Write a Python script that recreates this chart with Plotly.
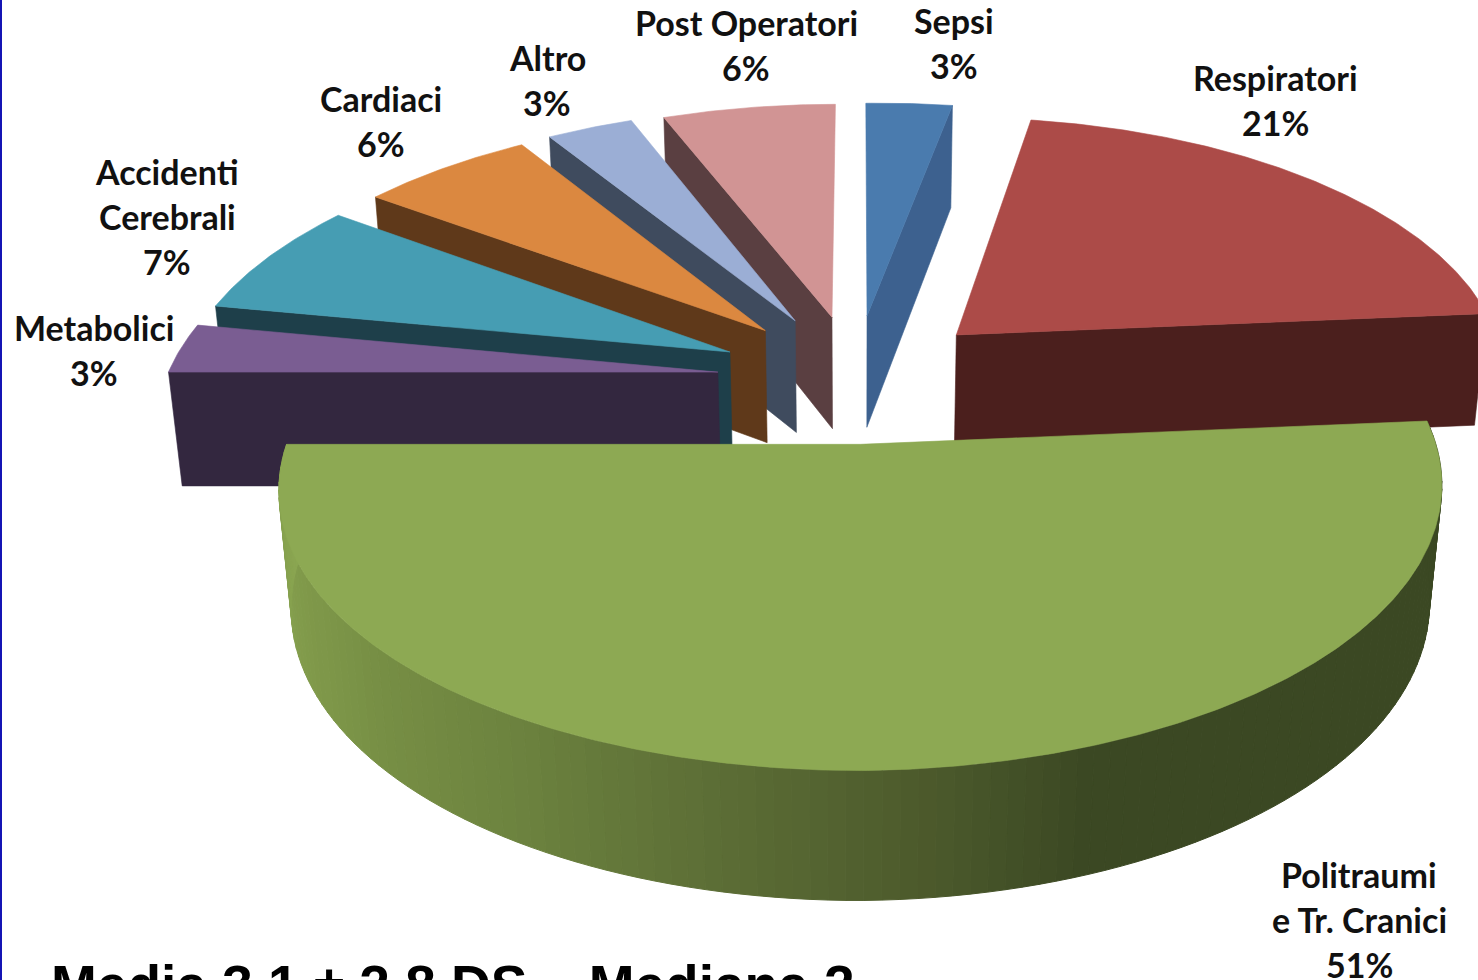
import numpy as np
import plotly.graph_objects as go

# ---- data (clockwise from 12 o'clock) ----
categories = ["Sepsi", "Respiratori", "Politraumi<br>e Tr. Cranici", "Metabolici",
              "Accidenti<br>Cerebrali", "Cardiaci", "Altro", "Post Operatori"]
values = [3, 21, 51, 3, 7, 6, 3, 6]

# ---- styles ----
top_colors = ["#4A7BAE", "#AC4B48", "#8DA953", "#7A5D92", "#469DB3", "#DB8840", "#9BAED5", "#D19494"]
wall_colors = ["#3D618F", "#4B1F1D", "#3B4823", "#33273F", "#1E3F4A", "#5F391A", "#3F4B5E", "#5A3F41"]
explode_x = [.017, .183, .004, -.255, -.236, -.173, -.118, -.049]
explode_y = [.15, .068, -.345, -.075, .004, .09, .13, .145]
draw_order = [7, 0, 6, 1, 5, 4, 3, 2]
CX, CY, A, B, KX, KY, M, H, R = 858, 353, 543, 252, .155, .14, .02, 113, 6
wall_stops = [(86, "#3B4823"), (160, "#3B4823"), (176, "#4E5C2D"), (194, "#5E7037"),
              (213, "#6E8540"), (240, "#7E9749"), (270, "#8BA752")]
label_pos = {"Sepsi": (954, 20), "Respiratori": (1275, 77), "Politraumi<br>e Tr. Cranici": (1359, 874),
             "Metabolici": (94, 327), "Accidenti<br>Cerebrali": (167, 171), "Cardiaci": (381, 98),
             "Altro": (547, 57), "Post Operatori": (746, 22)}
LINE_GAP = 45
LABEL_FONT = dict(family="Lato", size=34, color="#111111")


def project(x, y, z):
    wx = 1 + KX * y - M * z
    wy = 1 + KY * y
    return CX + A * x / wx, CY - B * y / wy - H * z / wy ** .67 - R * max(x, 0)


def hex2rgb(c):
    return np.array([int(c[i:i + 2], 16) for i in (1, 3, 5)], float)


def wall_color(b):
    bs = [s[0] for s in wall_stops]
    rgb = [np.interp(b, bs, [hex2rgb(s[1])[i] for s in wall_stops]) for i in range(3)]
    return "rgb(%d,%d,%d)" % tuple(rgb)


fig = go.Figure()


def poly(xs, ys, color, lw=0.6):
    fig.add_trace(go.Scatter(x=list(xs) + [xs[0]], y=list(ys) + [ys[0]], mode="lines", fill="toself",
                             fillcolor=color, line=dict(color=color, width=lw),
                             hoverinfo="skip", showlegend=False))


edges = np.concatenate([[0], np.cumsum(values)]) * 3.6
for i in draw_order:
    a0, a1 = edges[i], edges[i + 1]
    ox, oy = explode_x[i], explode_y[i]

    def pt(r, b, z):
        t = np.radians(b)
        return project(ox + r * np.sin(t), oy + r * np.cos(t), z)

    # radial wall that faces the viewer
    for b, on in ((a0, np.sin(np.radians(a0)) < 0), (a1, np.sin(np.radians(a1)) > 0)):
        if on:
            c = [pt(0, b, 0), pt(1, b, 0), pt(1, b, -1), pt(0, b, -1)]
            poly([p[0] for p in c], [p[1] for p in c], wall_colors[i])
    # outer wall of the front slice, shaded in narrow strips
    if a1 - a0 > 120:
        arc = np.linspace(a0, a1, 121)
        for b0, b1 in zip(arc[:-1], arc[1:]):
            c = [pt(1, b0, 0), pt(1, b1, 0), pt(1, b1, -1), pt(1, b0, -1)]
            poly([p[0] for p in c], [p[1] for p in c], wall_color((b0 + b1) / 2), lw=1)
    # top face
    arc = np.linspace(a0, a1, max(8, int(a1 - a0) * 2))
    c = [pt(0, a0, 0)] + [pt(1, b, 0) for b in arc]
    poly([p[0] for p in c], [p[1] for p in c], top_colors[i])

annotations = []
for cat, v in zip(categories, values):
    x, y = label_pos[cat]
    for j, line in enumerate(cat.split("<br>") + [f"{v}%"]):
        annotations.append(dict(x=x, y=y + j * LINE_GAP, text=f"<b>{line}</b>", showarrow=False,
                                xanchor="center", yanchor="middle", font=LABEL_FONT))
annotations.append(dict(xref="paper", yref="paper", x=0, y=0, xshift=49, yshift=28,
                        text="<b>Media 3,1 ± 2,8 DS – Mediana 2</b>", showarrow=False,
                        xanchor="left", yanchor="top",
                        font=dict(family="Liberation Sans", size=55, color="#000000")))

fig.update_layout(width=1478, height=980, margin=dict(l=0, r=0, t=0, b=0),
                  paper_bgcolor="white", plot_bgcolor="white", annotations=annotations,
                  xaxis=dict(range=[0, 1478], visible=False, fixedrange=True),
                  yaxis=dict(range=[980, 0], visible=False, fixedrange=True),
                  shapes=[dict(type="line", x0=1, x1=1, y0=0, y1=980, line=dict(color="#1414B4", width=2))])
fig.write_html("out.html", config=dict(displayModeBar=False),
               post_script="document.body.style.margin='0';document.body.style.overflow='hidden';")
